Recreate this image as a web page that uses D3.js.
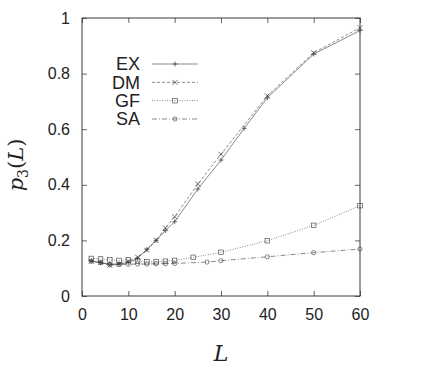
<!DOCTYPE html>
<html>
<head>
<meta charset="utf-8">
<script src="https://cdn.jsdelivr.net/npm/d3@7"></script>
<style>
  body { margin: 0; background: #fff; }
  text { font-family: "Liberation Sans", Arial, sans-serif; fill: #222; }
</style>
</head>
<body>
<div class="canvas"></div>
<script>
// DATA
const exL = [2, 4, 6, 8, 10, 12, 14, 16, 18, 20, 25, 30, 35, 40, 50, 60];
const exP = [0.125, 0.12, 0.115, 0.115, 0.12, 0.135, 0.168, 0.2, 0.235, 0.267, 0.385, 0.489, 0.603, 0.713, 0.87, 0.955];

const dmL = [2, 4, 6, 8, 10, 12, 14, 16, 18, 20, 25, 30, 40, 50, 60];
const dmP = [0.125, 0.12, 0.11, 0.115, 0.125, 0.14, 0.165, 0.2, 0.245, 0.285, 0.403, 0.51, 0.72, 0.875, 0.965];

const gfL = [2, 4, 6, 8, 10, 12, 14, 16, 18, 20, 24, 30, 40, 50, 60];
const gfP = [0.135, 0.133, 0.13, 0.128, 0.13, 0.125, 0.123, 0.123, 0.125, 0.128, 0.139, 0.157, 0.199, 0.254, 0.325];

const saL = [2, 4, 6, 8, 10, 12, 14, 16, 18, 20, 27, 30, 40, 50, 60];
const saP = [0.125, 0.12, 0.113, 0.113, 0.114, 0.115, 0.115, 0.116, 0.116, 0.117, 0.122, 0.127, 0.141, 0.156, 0.169];

const seriesNames = ['EX', 'DM', 'GF', 'SA'];
const xTicks = [0, 10, 20, 30, 40, 50, 60];
const yTicks = [0, 0.2, 0.4, 0.6, 0.8, 1];

const dims = { width: 443, height: 375 };
const plot = { left: 82, right: 360, top: 18, bottom: 296 };
const ink = '#3a3a3a';

const svg = d3
  .select('.canvas')
  .append('svg')
  .attr('width', dims.width)
  .attr('height', dims.height);

const x = d3.scaleLinear().domain([0, 60]).range([plot.left, plot.right]);
const y = d3.scaleLinear().domain([0, 1]).range([plot.bottom, plot.top]);

// FRAME + TICKS (inward, mirrored)
const tickLen = 5;
const axisStyle = (g) => {
  g.select('.domain').remove();
  g.selectAll('line').attr('stroke', ink).attr('stroke-width', 0.8);
};

svg.append('g')
  .attr('transform', `translate(0, ${plot.bottom})`)
  .call(d3.axisBottom(x).tickValues(xTicks).tickSize(-tickLen).tickPadding(13).tickFormat(d3.format('d')))
  .call(axisStyle)
  .selectAll('text').attr('font-size', 16).attr('fill', '#222');

svg.append('g')
  .attr('transform', `translate(0, ${plot.top})`)
  .call(d3.axisTop(x).tickValues(xTicks).tickSize(-tickLen).tickFormat(''))
  .call(axisStyle);

svg.append('g')
  .attr('transform', `translate(${plot.left}, 0)`)
  .call(d3.axisLeft(y).tickValues(yTicks).tickSize(-tickLen).tickPadding(12).tickFormat(d3.format('~g')))
  .call(axisStyle)
  .selectAll('text').attr('font-size', 16).attr('fill', '#222');

svg.append('g')
  .attr('transform', `translate(${plot.right}, 0)`)
  .call(d3.axisRight(y).tickValues(yTicks).tickSize(-tickLen).tickFormat(''))
  .call(axisStyle);

svg.append('rect')
  .attr('x', plot.left)
  .attr('y', plot.top)
  .attr('width', plot.right - plot.left)
  .attr('height', plot.bottom - plot.top)
  .attr('fill', 'none')
  .attr('stroke', ink)
  .attr('stroke-width', 1);

// AXIS TITLES
svg.append('text')
  .attr('x', (plot.left + plot.right) / 2)
  .attr('y', 361)
  .attr('text-anchor', 'middle')
  .style('font-family', '"DejaVu Serif", "Liberation Serif", serif')
  .style('font-style', 'italic')
  .attr('font-size', 22)
  .text('L');

const yLabel = svg.append('text')
  .attr('transform', `translate(23, ${(plot.top + plot.bottom) / 2 + 8}) rotate(-90)`)
  .attr('text-anchor', 'middle')
  .style('font-family', '"DejaVu Serif", "Liberation Serif", serif')
  .attr('font-size', 21);
yLabel.append('tspan').style('font-style', 'italic').text('p');
yLabel.append('tspan').attr('font-size', 14).attr('dy', 5).text('3');
yLabel.append('tspan').attr('dy', -5).text('(');
yLabel.append('tspan').style('font-style', 'italic').text('L');
yLabel.append('tspan').text(')');

// SERIES
const series = [
  { name: seriesNames[0], L: exL, p: exP, dash: null, marker: 'plus' },
  { name: seriesNames[1], L: dmL, p: dmP, dash: '3,2', marker: 'cross' },
  { name: seriesNames[2], L: gfL, p: gfP, dash: '1,1.5', marker: 'square' },
  { name: seriesNames[3], L: saL, p: saP, dash: '5,2,1,2', marker: 'circle' }
];

const line = d3.line().x((d) => x(d[0])).y((d) => y(d[1]));

const drawMarker = (g, type, cx, cy) => {
  const s = 2.5;
  if (type === 'plus') {
    g.append('path').attr('d', `M${cx - s},${cy}H${cx + s}M${cx},${cy - s}V${cy + s}`)
      .attr('stroke', ink).attr('stroke-width', 0.7);
  } else if (type === 'cross') {
    g.append('path').attr('d', `M${cx - s},${cy - s}L${cx + s},${cy + s}M${cx - s},${cy + s}L${cx + s},${cy - s}`)
      .attr('stroke', ink).attr('stroke-width', 0.7);
  } else if (type === 'square') {
    g.append('rect').attr('x', cx - 2.3).attr('y', cy - 2.3).attr('width', 4.6).attr('height', 4.6)
      .attr('fill', 'none').attr('stroke', ink).attr('stroke-width', 0.6);
  } else {
    g.append('circle').attr('cx', cx).attr('cy', cy).attr('r', 2.1)
      .attr('fill', 'none').attr('stroke', ink).attr('stroke-width', 0.6);
  }
};

const graph = svg.append('g');

series.forEach((s) => {
  const pts = s.L.map((l, i) => [l, s.p[i]]);
  graph.append('path')
    .attr('d', line(pts))
    .attr('fill', 'none')
    .attr('stroke', ink)
    .attr('stroke-width', 0.6)
    .attr('stroke-dasharray', s.dash);
  const mg = graph.append('g');
  pts.forEach((d) => drawMarker(mg, s.marker, x(d[0]), y(d[1])));
});

// LEGEND
const legendY = d3.scalePoint().domain(seriesNames).range([64, 119]);
const legend = svg.append('g');

series.forEach((s) => {
  const ly = legendY(s.name);
  legend.append('text')
    .attr('x', 140)
    .attr('y', ly)
    .attr('dy', '0.36em')
    .attr('text-anchor', 'end')
    .attr('font-size', 18)
    .text(s.name);
  legend.append('line')
    .attr('x1', 152).attr('x2', 198)
    .attr('y1', ly).attr('y2', ly)
    .attr('stroke', ink)
    .attr('stroke-width', 0.6)
    .attr('stroke-dasharray', s.dash);
  drawMarker(legend, s.marker, 175, ly);
});
</script>
</body>
</html>
